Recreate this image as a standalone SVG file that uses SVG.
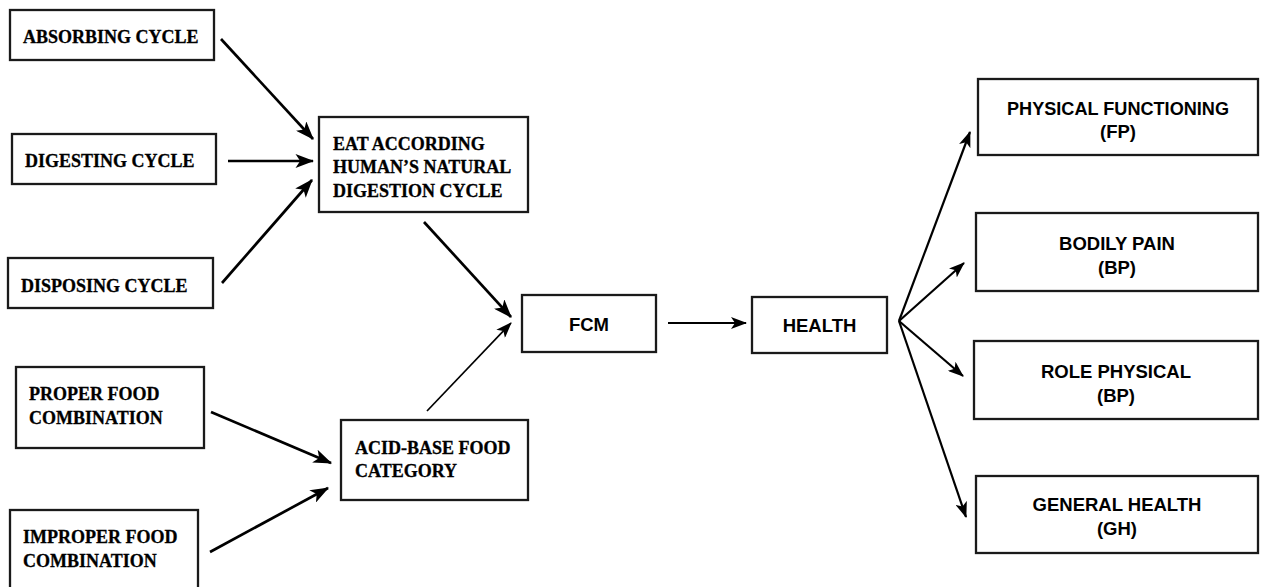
<svg xmlns="http://www.w3.org/2000/svg" width="1261" height="587" viewBox="0 0 1261 587">
<defs>
<style>
.box{fill:#fff;stroke:#1a1a1a;stroke-width:2.3}
.serif{font-family:"Liberation Serif","Times New Roman",serif;font-weight:bold;font-size:18px;fill:#000;stroke:#000;stroke-width:0.3}
.sans{font-family:"Liberation Sans",Arial,sans-serif;font-weight:bold;font-size:18.5px;fill:#000;text-anchor:middle}
.c{fill:none;stroke:#000;stroke-width:2.7}
.c2{fill:none;stroke:#000;stroke-width:2.2}
.c3{fill:none;stroke:#000;stroke-width:1.7}
</style>
<marker id="ah" viewBox="0 0 16 12" refX="15" refY="6" markerWidth="19" markerHeight="14" markerUnits="userSpaceOnUse" orient="auto">
<path d="M0,0 L16,6 L0,12 L4,6 z" fill="#000"/>
</marker>
<marker id="ahs" viewBox="0 0 16 12" refX="15" refY="6" markerWidth="16" markerHeight="12" markerUnits="userSpaceOnUse" orient="auto">
<path d="M0,0 L16,6 L0,12 L4,6 z" fill="#000"/>
</marker>
</defs>
<rect width="1261" height="587" fill="#fff"/>

<g id="connectors">
<line class="c" x1="221" y1="39" x2="313" y2="139" marker-end="url(#ah)"/>
<line class="c" x1="228" y1="161" x2="313" y2="161" marker-end="url(#ah)"/>
<line class="c" x1="222" y1="283" x2="312" y2="180" marker-end="url(#ah)"/>
<line class="c" x1="424" y1="222" x2="511" y2="317" marker-end="url(#ah)"/>
<line class="c3" x1="427" y1="411" x2="511" y2="323" marker-end="url(#ahs)"/>
<line class="c" x1="211" y1="412" x2="331" y2="463" marker-end="url(#ah)"/>
<line class="c" x1="210" y1="552" x2="328" y2="488" marker-end="url(#ah)"/>
<line class="c2" x1="668" y1="323" x2="746" y2="323" marker-end="url(#ahs)"/>
<line class="c2" x1="899" y1="321" x2="970" y2="132" marker-end="url(#ahs)"/>
<line class="c2" x1="899" y1="321" x2="964" y2="263" marker-end="url(#ahs)"/>
<line class="c2" x1="899" y1="321" x2="963" y2="376" marker-end="url(#ahs)"/>
<line class="c2" x1="899" y1="321" x2="966" y2="517" marker-end="url(#ahs)"/>
</g>

<g id="absorbing">
<rect class="box" x="10" y="10" width="204" height="50"/>
<text class="serif" x="23" y="43">ABSORBING CYCLE</text>
</g>
<g id="digesting">
<rect class="box" x="12" y="134" width="204" height="50"/>
<text class="serif" x="25" y="167">DIGESTING CYCLE</text>
</g>
<g id="disposing">
<rect class="box" x="8" y="258" width="205" height="50"/>
<text class="serif" x="21" y="292">DISPOSING CYCLE</text>
</g>
<g id="eat">
<rect class="box" x="319" y="117" width="209" height="95"/>
<text class="serif" x="333" y="150">EAT ACCORDING</text>
<text class="serif" x="333" y="173">HUMAN’S NATURAL</text>
<text class="serif" x="333" y="197">DIGESTION CYCLE</text>
</g>
<g id="proper">
<rect class="box" x="16" y="367" width="188" height="81"/>
<text class="serif" x="29" y="400">PROPER FOOD</text>
<text class="serif" x="29" y="424">COMBINATION</text>
</g>
<g id="improper">
<rect class="box" x="10" y="510" width="188" height="95"/>
<text class="serif" x="23" y="543">IMPROPER FOOD</text>
<text class="serif" x="23" y="567">COMBINATION</text>
</g>
<g id="acidbase">
<rect class="box" x="341" y="420" width="187" height="80"/>
<text class="serif" x="355" y="454">ACID-BASE FOOD</text>
<text class="serif" x="355" y="477">CATEGORY</text>
</g>
<g id="fcm">
<rect class="box" x="522" y="295" width="134" height="57"/>
<text class="sans" x="589" y="331">FCM</text>
</g>
<g id="health">
<rect class="box" x="752" y="297" width="135" height="56"/>
<text class="sans" x="819.5" y="332">HEALTH</text>
</g>
<g id="pf">
<rect class="box" x="978" y="79" width="280" height="76"/>
<text class="sans" x="1118" y="115" textLength="222" lengthAdjust="spacingAndGlyphs">PHYSICAL FUNCTIONING</text>
<text class="sans" x="1118" y="138">(FP)</text>
</g>
<g id="bp">
<rect class="box" x="976" y="213" width="282" height="78"/>
<text class="sans" x="1117" y="250">BODILY PAIN</text>
<text class="sans" x="1117" y="274">(BP)</text>
</g>
<g id="rp">
<rect class="box" x="974" y="341" width="284" height="78"/>
<text class="sans" x="1116" y="378">ROLE PHYSICAL</text>
<text class="sans" x="1116" y="402">(BP)</text>
</g>
<g id="gh">
<rect class="box" x="976" y="476" width="282" height="77"/>
<text class="sans" x="1117" y="511">GENERAL HEALTH</text>
<text class="sans" x="1117" y="535">(GH)</text>
</g>
</svg>
